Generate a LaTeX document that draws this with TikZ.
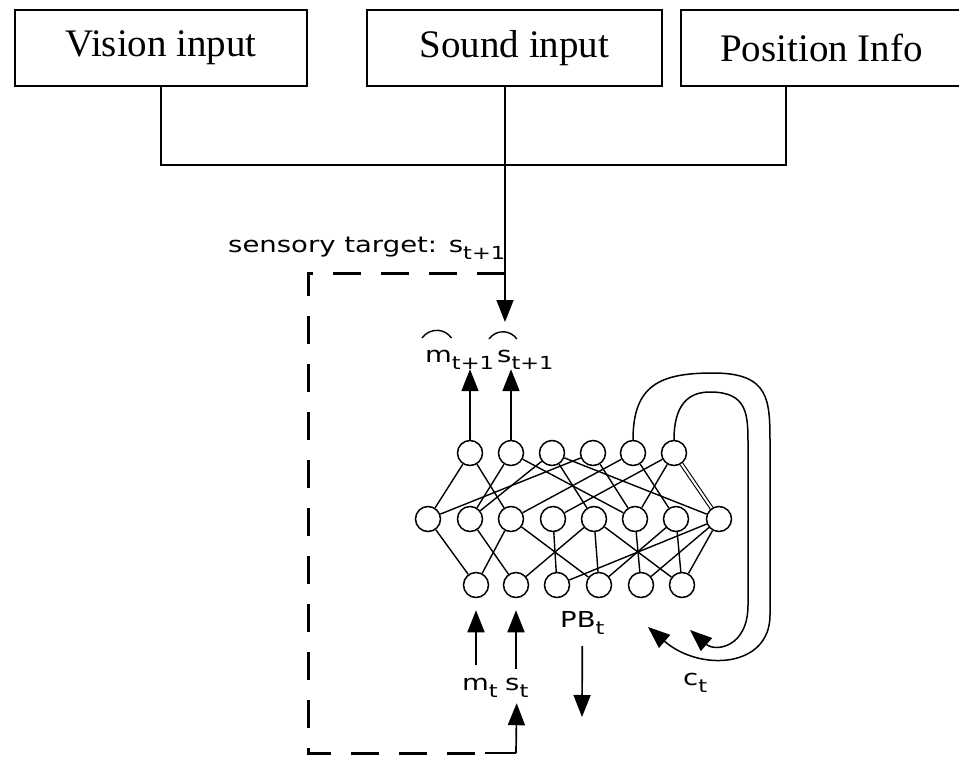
\documentclass[tikz,border=0pt]{standalone}
\usepackage{fontspec}
\setmainfont{Liberation Serif}
\newfontfamily\labfont[FakeStretch=1.25]{DejaVu Sans}
\usetikzlibrary{arrows.meta}
\newcommand\lsub[1]{\raisebox{-7pt}{\fontsize{18}{20}\selectfont #1}}
\tikzset{
  inbox/.style={draw,line width=1.5pt,minimum width=#1,minimum height=76pt,inner sep=0pt,font=\fontsize{39}{44}\selectfont},
  unit/.style={draw,circle,line width=1.5pt,minimum size=25pt,inner sep=0pt},
  lab/.style={inner sep=0pt,anchor=base west,font=\labfont\fontsize{22}{26}\selectfont},
  arr/.style={line width=1.7pt,-{Triangle[width=17pt,length=22pt]}},
  wire/.style={line width=1.4pt},
  dashline/.style={line width=3pt,dash pattern=on 28pt off 20pt},
}
\begin{document}
\begin{tikzpicture}[x=1pt,y=-1pt]
    \useasboundingbox (0,0) rectangle (959,756);
    % entradas
    \node[inbox=292pt] (vis) at (161,48)   {Vision input};
    \node[inbox=295pt] (snd) at (514.5,48) {Sound input};
    \node[inbox=281pt] (pos) at (821.5,48) {Position Info};
    \coordinate (sndout) at (505,86);
    \coordinate (posout) at (786,86);
    \draw[line width=1.6pt] (vis.south) -- (vis.south |- 0,165) -| (posout);

    \foreach \i/\x in {1/470,2/511,3/552,4/593,5/633,6/674}
        \node[unit] (t\i) at (\x,453) {};
    \foreach \i/\x in {1/428,2/470,3/511,4/553,5/594,6/635,7/676,8/719}
        \node[unit] (m\i) at (\x,519) {};
    \foreach \i/\x in {1/476,2/516,3/557,4/599,5/641,6/682}
        \node[unit] (b\i) at (\x,585) {};
    \foreach \a/\b in {t1/m1,t1/m3,t2/m2,t2/m6,t3/m2,t3/m5,t3/m8,t4/m1,t4/m6,t5/m3,t5/m7,t6/m4,t6/m6,
                       m1/b1,m2/b2,m3/b1,m3/b4,m4/b3,m5/b2,m5/b4,m5/b6,m6/b5,m7/b6,m7/b4,m8/b3,m8/b5,m8/b6}
        \draw[wire] (\a) -- (\b);
    \draw[line width=1.1pt,double,double distance=2pt] (t6) -- (m8);

    \node[lab] (tgt) at (228,252) {sensory target: s\lsub{t+1}};
    \node[lab] (mh)  at (425,362) {m\lsub{t+1}};
    \node[lab] (sh)  at (497,362) {s\lsub{t+1}};
    \node[lab] (mt)  at (462,690) {m\lsub{t}};
    \node[lab] (st)  at (505,690) {s\lsub{t}};
    \node[lab] (pb)  at (560,627) {PB\lsub{t}};
    \node[lab] (ct)  at (683,685) {c\lsub{t}};
    \draw[line width=1.4pt] (422,338) arc[start angle=145,end angle=35,radius=18pt];
    \draw[line width=1.4pt] (489,339) arc[start angle=145,end angle=35,radius=17pt];

    \coordinate (sin)   at (505,322);
    \coordinate (dtop)  at (505,273);
    \coordinate (dcor)  at (516,753);
    \coordinate (pbout) at (582,717);
    \coordinate (ctout) at (648,627);
    \coordinate (ctin)  at (690,630);
    \draw[arr] (sndout) -- (sin);
    \draw[arr] (t1) -- (t1 |- mh.south);
    \draw[arr] (t2) -- (t2 |- sh.south);
    \draw[arr,shorten <=12pt,shorten >=12pt] (mt.north -| b1) -- (b1);
    \draw[arr,shorten <=8pt,shorten >=12pt] (st.north -| b2) -- (b2);
    \draw[arr,shorten >=6pt] (dcor) -- (st.south);
    \draw[arr,shorten <=12pt] (pb.south) -- (pbout);
    \draw[dashline] (dtop) -| (308,753) -- (490,753);
    \draw[line width=2pt] (485,753) -- (dcor);

    \draw[arr,line width=1.5pt] (t5.north) .. controls (633,385) and (660,373) .. (713,373)
        .. controls (770,373) and (770,400) .. (770,445) -- (770,615)
        .. controls (770,668) and (700,672) .. (ctout);
    \draw[arr,line width=1.5pt] (t6.north) .. controls (674,405) and (688,392) .. (710,392)
        .. controls (748,392) and (748,415) .. (748,445) -- (748,605)
        .. controls (748,648) and (715,652) .. (ctin);
\end{tikzpicture}
\end{document}
